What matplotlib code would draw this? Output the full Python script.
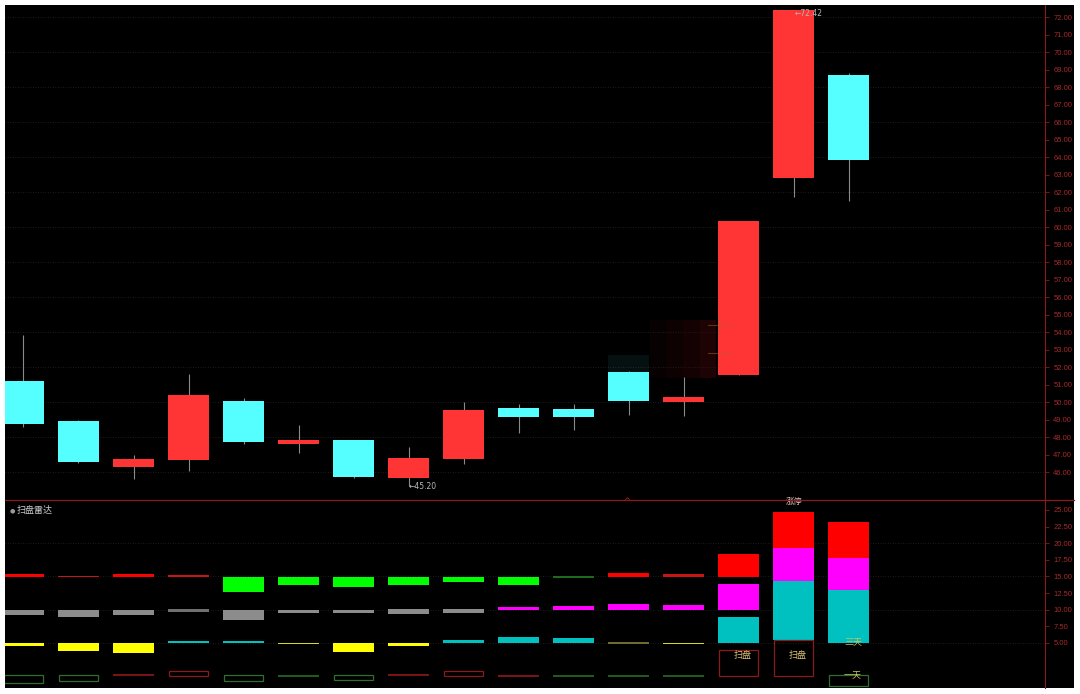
import numpy as np
from matplotlib import pyplot as plt
from matplotlib.patches import Rectangle

plt.rcParams['font.family'] = ['Noto Sans CJK SC', 'DejaVu Sans']

# candle data (16 sessions)
opens  = [51.20, 48.91, 46.29, 46.69, 50.06, 47.60, 47.83, 45.66, 46.74, 49.66, 49.60, 51.71, 50.00, 51.54, 62.80, 68.69]
closes = [48.74, 46.57, 46.74, 50.40, 47.71, 47.83, 45.71, 46.80, 49.54, 49.14, 49.14, 50.06, 50.29, 60.34, 72.42, 63.83]
highs  = [53.83, 48.95, 46.97, 51.60, 50.23, 48.69, 47.85, 47.43, 50.00, 49.89, 49.90, 51.75, 51.43, 60.34, 72.42, 68.80]
lows   = [48.60, 46.50, 45.60, 46.06, 47.60, 47.09, 45.65, 45.20, 46.46, 48.23, 48.40, 49.26, 49.20, 51.54, 61.71, 61.49]

# indicator panel "扫盘雷达": four rows of floating bars
row1_bot = [14.92, 14.92, 14.92, 14.92, 12.67, 13.72, 13.42, 13.72, 14.17, 13.72, 14.77, 14.92, 14.92, 14.92, 19.29, 17.78]
row1_top = [15.38, 15.08, 15.38, 15.23, 14.92, 14.92, 14.92, 14.92, 14.92, 14.92, 15.08, 15.53, 15.38, 18.38, 24.70, 23.20]
row1_sig = ['R', 'r', 'R', 'r', 'G', 'G', 'G', 'G', 'G', 'G', 'g', 'R', 'r', 'R', 'R', 'R']

row2_bot = [9.21, 8.91, 9.21, 9.66, 8.46, 9.51, 9.51, 9.36, 9.51, 9.96, 9.96, 9.96, 9.96, 9.96, 14.32, 12.97]
row2_top = [9.96, 9.96, 9.96, 10.11, 9.96, 9.96, 9.96, 10.11, 10.11, 10.41, 10.56, 10.86, 10.71, 13.87, 19.29, 17.78]
row2_sig = ['W', 'W', 'W', 'w', 'W', 'W', 'W', 'W', 'W', 'M', 'M', 'M', 'M', 'M', 'M', 'M']

row3_bot = [4.55, 3.80, 3.50, 5.00, 5.00, 4.85, 3.65, 4.55, 5.00, 5.00, 5.00, 4.85, 4.85, 5.00, 5.45, 5.00]
row3_top = [5.00, 5.00, 5.00, 5.30, 5.30, 5.00, 5.00, 5.00, 5.45, 5.90, 5.75, 5.15, 5.00, 8.91, 14.32, 12.97]
row3_sig = ['Y', 'Y', 'Y', 'C', 'C', 'y', 'Y', 'Y', 'C', 'C', 'C', 'o', 'y', 'C', 'C', 'C']

row4_bot = [-1.02, -0.71, 0.04, 0.04, -0.71, -0.11, -0.56, 0.04, 0.04, -0.11, -0.11, -0.11, -0.11, 0.04, 0.04, -1.47]
row4_top = [0.19, 0.19, 0.34, 0.79, 0.19, 0.19, 0.19, 0.34, 0.79, 0.19, 0.19, 0.19, 0.19, 3.95, 5.45, 0.19]
row4_sig = ['G', 'G', 'r', 'R', 'G', 'g', 'G', 'r', 'R', 'r', 'g', 'g', 'g', 'R', 'R', 'G']

price_ticks = np.arange(46, 73, 1)
ind_ticks = [5, 7.5, 10, 12.5, 15, 17.5, 20, 22.5, 25]

fill_col = {'R': '#ff0000', 'r': '#c81414', 'G': '#00ff00', 'g': '#1f6a1f',
            'W': '#8c8c8c', 'w': '#707070', 'M': '#ff00ff',
            'Y': '#ffff00', 'y': '#d8d820', 'o': '#6e6a30', 'C': '#00c0c0'}
box_col = {'G': '#2f6f2f', 'R': '#8b1a1a'}
box_fill = {'g': '#1f5a1f', 'r': '#7a1414'}

axis_red = '#8b1a1a'
label_red = '#a52a2a'
grid_col = '#262626'

n = len(opens)
x = np.arange(n)
W = 0.745

fig = plt.figure(figsize=(10.8, 6.94), dpi=100, facecolor='white')

# black screen behind everything
bg = fig.add_axes([5/1080, 6/694, 1069/1080, 683/694])
bg.set_facecolor('black')
bg.set_xticks([]); bg.set_yticks([])
for s in bg.spines.values():
    s.set_visible(False)

ax = fig.add_axes([5/1080, 1 - 500/694, 1040/1080, 495/694])
ax2 = fig.add_axes([5/1080, 1 - 688/694, 1040/1080, 188/694])

for a in (ax, ax2):
    a.set_facecolor('none')
    a.set_xlim(-0.336, 18.57)
    a.set_xticks([])
    a.yaxis.tick_right()
    a.tick_params(axis='y', colors=axis_red, labelcolor=label_red, labelsize=5.5,
                  length=3, width=0.6, pad=3)
    for k, s in a.spines.items():
        s.set_visible(k == 'right')
    a.spines['right'].set_color(axis_red)
    a.spines['right'].set_linewidth(0.8)

# ---- price panel ----
ax.set_ylim(44.4, 72.69)
ax.set_yticks(price_ticks)
ax.set_yticklabels(['%.2f' % v for v in price_ticks], family='Liberation Sans')
for g in range(46, 73, 2):
    ax.axhline(g, color=grid_col, lw=0.6, ls=(0, (1, 2)), zorder=0)

up = [c >= o for o, c in zip(opens, closes)]
body_col = ['#ff3535' if u else '#55ffff' for u in up]
ax.vlines(x, lows, highs, color='#8a8a8a', lw=0.8, zorder=1)
ax.bar(x, [abs(c - o) for o, c in zip(opens, closes)], bottom=[min(o, c) for o, c in zip(opens, closes)],
       width=W, color=body_col, zorder=2)

# faint motion-blur smear near the breakout
for k, al in enumerate([0.10, 0.18, 0.28, 0.40]):
    ax.add_patch(Rectangle((11.39 + k * 0.3, 51.37), 0.3, 3.3, color='#4a0a0a',
                           alpha=al, lw=0, zorder=0.5))
ax.add_patch(Rectangle((11 - W/2, 51.71), W, 1.0, color='#55ffff', alpha=0.07, lw=0, zorder=0.5))
ax.plot([12.65, 12.65], [53.9, 54.9], color='#b06030', lw=0.8, alpha=0.5)
ax.plot([12.45, 12.85], [54.4, 54.4], color='#b06030', lw=0.8, alpha=0.5)
ax.plot([12.45, 12.85], [52.8, 52.8], color='#b06030', lw=0.8, alpha=0.5)

ihi = int(np.argmax(highs))
ilo = int(np.argmin(lows))
ax.text(ihi + 0.02, highs[ihi] - 0.2, '←72.42', color='#b8b8b8', fontsize=5.5,
        family='DejaVu Sans', va='center', ha='left')
ax.text(ilo, lows[ilo], '←45.20', color='#b8b8b8', fontsize=5.5,
        family='DejaVu Sans', va='center', ha='left')

# panel divider
fig.add_artist(plt.Line2D([5/1080, 1074/1080], [1 - 500/694, 1 - 500/694],
                          color=axis_red, lw=0.9))

# ---- indicator panel ----
ax2.set_ylim(-1.77, 26.5)
ax2.set_yticks(ind_ticks)
ax2.set_yticklabels(['%.2f' % v for v in ind_ticks], family='Liberation Sans')
for g in [5, 10, 15, 20]:
    ax2.axhline(g, color=grid_col, lw=0.6, ls=(0, (1, 2)), zorder=0)

for bot, top, sig in [(row1_bot, row1_top, row1_sig), (row2_bot, row2_top, row2_sig),
                      (row3_bot, row3_top, row3_sig)]:
    ax2.bar(x, np.array(top) - np.array(bot), bottom=bot, width=W,
            color=[fill_col[s] for s in sig], zorder=2)

for i in range(n):
    s = row4_sig[i]
    if s in box_col:
        ax2.bar(x[i], row4_top[i] - row4_bot[i], bottom=row4_bot[i], width=W - 0.03,
                fill=False, edgecolor=box_col[s], lw=0.9, zorder=2)
    else:
        ax2.bar(x[i], row4_top[i] - row4_bot[i], bottom=row4_bot[i], width=W,
                color=box_fill[s], zorder=2)

ax2.text(13.08, 3.05, '扫盘', color='#d8c070', fontsize=6.5, ha='center', va='center')
ax2.text(14.08, 3.05, '扫盘', color='#d8c070', fontsize=6.5, ha='center', va='center')
ax2.text(15.08, 5.0, '三天', color='#c8c060', fontsize=6.5, ha='center', va='center')
ax2.text(15.08, 0.1, '一天', color='#c8c060', fontsize=6.5, ha='center', va='center')

ax2.text(14.0, 26.3, '涨停', color='#f0c8c8', fontsize=6, ha='center', va='center')
ax2.text(10.96, 26.3, '^', color='#d02020', fontsize=6, ha='center', va='center',
         family='DejaVu Sans')

ax2.text(-0.26, 24.9, '●', color='#9a9a9a', fontsize=4.5, va='center', ha='left',
         family='DejaVu Sans')
ax2.text(-0.13, 24.9, '扫盘雷达', color='#c8c8c8', fontsize=6.5, va='center', ha='left')

plt.savefig('out.png', dpi=100, facecolor='white')
